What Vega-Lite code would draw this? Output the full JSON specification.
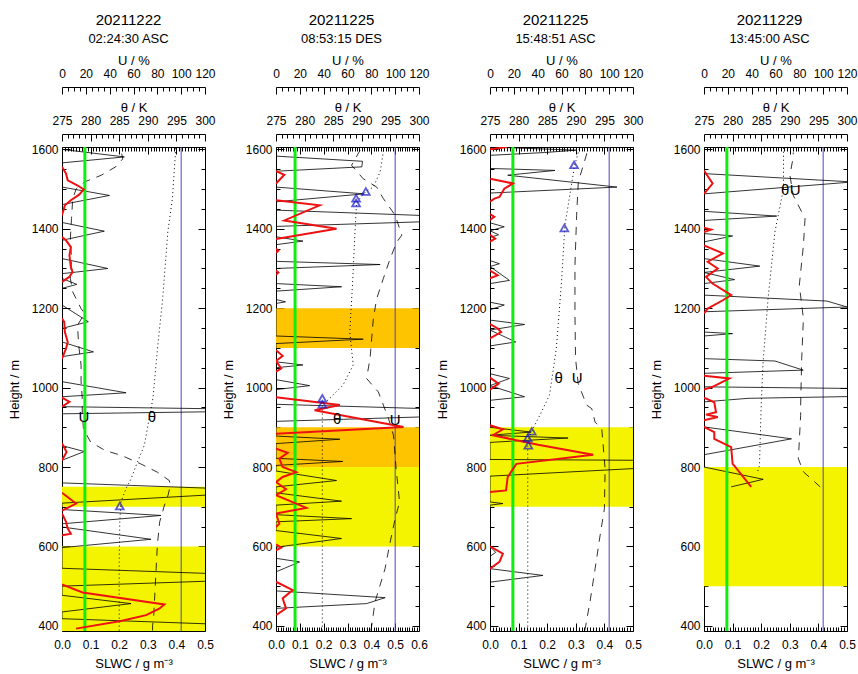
{
"$schema":"https://vega.github.io/schema/vega-lite/v6.json",
"background":"white",
"padding":{"left":7,"top":12,"right":5,"bottom":5},
"spacing":71,
"bounds":"flush",
"config":{
 "view":{"stroke":"black","strokeWidth":1},
 "axis":{"labelFont":"Liberation Sans","labelFontSize":12,"titleFont":"Liberation Sans","titleFontSize":13,"titleFontWeight":"normal","labelColor":"black","titleColor":"black","tickColor":"black","domainColor":"black","grid":false,"labelOverlap":false,"labelFlush":false,"labelBound":false,"tickWidth":1},
 "title":{"anchor":"middle","frame":"group","dx":-6,"offset":8,"font":"Liberation Sans","fontSize":15,"fontWeight":"normal","color":"black","subtitleFont":"Liberation Sans","subtitleFontSize":13,"subtitleColor":"black","subtitlePadding":5}
},
"datasets":{
"black":[
{"p":1,"s":0,"h":1600},{"p":1,"s":0.218,"h":1581},{"p":1,"s":0,"h":1566},{"p":1,"s":0,"h":1505},{"p":1,"s":0.166,"h":1484},{"p":1,"s":0,"h":1461},{"p":1,"s":0,"h":1416},{"p":1,"s":0.148,"h":1394},{"p":1,"s":0,"h":1371},{"p":1,"s":0,"h":1325},{"p":1,"s":0.16,"h":1300},{"p":1,"s":0,"h":1287},{"p":1,"s":0,"h":1275},{"p":1,"s":0.052,"h":1260},{"p":1,"s":0,"h":1250},{"p":1,"s":0,"h":1208},{"p":1,"s":0.092,"h":1166},{"p":1,"s":0,"h":1149},{"p":1,"s":0,"h":1115},{"p":1,"s":0.11,"h":1090},{"p":1,"s":0,"h":1078},{"p":1,"s":0,"h":1015},{"p":1,"s":0.224,"h":987},{"p":1,"s":0,"h":977},{"p":1,"s":0,"h":952},{"p":1,"s":0.9,"h":943},{"p":1,"s":0,"h":934},{"p":1,"s":0,"h":854},{"p":1,"s":0.078,"h":839},{"p":1,"s":0,"h":817},{"p":1,"s":0,"h":760},{"p":1,"s":0.77,"h":740},{"p":1,"s":0,"h":709},{"p":1,"s":0,"h":693},{"p":1,"s":0.346,"h":678},{"p":1,"s":0,"h":657},{"p":1,"s":0,"h":649},{"p":1,"s":0.311,"h":618},{"p":1,"s":0,"h":597},{"p":1,"s":0,"h":545},{"p":1,"s":0.9,"h":522},{"p":1,"s":0,"h":500},{"p":1,"s":0,"h":477},{"p":1,"s":0.241,"h":456},{"p":1,"s":0,"h":435},{"p":1,"s":0,"h":418},{"p":1,"s":0.9,"h":395},
{"p":2,"s":0,"h":1583},{"p":2,"s":0.363,"h":1570},{"p":2,"s":0.36,"h":1556},{"p":2,"s":0,"h":1545},{"p":2,"s":0,"h":1505},{"p":2,"s":0.37,"h":1488},{"p":2,"s":0,"h":1468},{"p":2,"s":0,"h":1447},{"p":2,"s":1.0,"h":1425},{"p":2,"s":0,"h":1406},{"p":2,"s":0,"h":1380},{"p":2,"s":0.113,"h":1369},{"p":2,"s":0,"h":1360},{"p":2,"s":0,"h":1318},{"p":2,"s":0.437,"h":1310},{"p":2,"s":0,"h":1300},{"p":2,"s":0,"h":1262},{"p":2,"s":0.275,"h":1254},{"p":2,"s":0,"h":1243},{"p":2,"s":0,"h":1222},{"p":2,"s":0.04,"h":1216},{"p":2,"s":0,"h":1212},{"p":2,"s":0,"h":1130},{"p":2,"s":0.366,"h":1122},{"p":2,"s":0,"h":1111},{"p":2,"s":0,"h":1065},{"p":2,"s":0.113,"h":1057},{"p":2,"s":0,"h":1050},{"p":2,"s":0,"h":1020},{"p":2,"s":0.141,"h":1005},{"p":2,"s":0,"h":995},{"p":2,"s":0,"h":958},{"p":2,"s":1.2,"h":937},{"p":2,"s":0,"h":915},{"p":2,"s":0,"h":878},{"p":2,"s":0.268,"h":870},{"p":2,"s":0,"h":859},{"p":2,"s":0,"h":822},{"p":2,"s":0.28,"h":814},{"p":2,"s":0,"h":804},{"p":2,"s":0,"h":790},{"p":2,"s":0.254,"h":766},{"p":2,"s":0,"h":750},{"p":2,"s":0,"h":735},{"p":2,"s":0.275,"h":714},{"p":2,"s":0,"h":704},{"p":2,"s":0,"h":680},{"p":2,"s":0.317,"h":670},{"p":2,"s":0,"h":662},{"p":2,"s":0,"h":640},{"p":2,"s":0.275,"h":620},{"p":2,"s":0,"h":598},{"p":2,"s":0,"h":570},{"p":2,"s":0.099,"h":561},{"p":2,"s":0,"h":536},{"p":2,"s":0,"h":488},{"p":2,"s":0.458,"h":471},{"p":2,"s":0.38,"h":456},{"p":2,"s":0,"h":444},
{"p":3,"s":0,"h":1606},{"p":3,"s":0.3,"h":1598},{"p":3,"s":0.19,"h":1592},{"p":3,"s":0,"h":1585},{"p":3,"s":0,"h":1552},{"p":3,"s":0.227,"h":1547},{"p":3,"s":0.062,"h":1535},{"p":3,"s":0.444,"h":1505},{"p":3,"s":0,"h":1490},{"p":3,"s":0,"h":1415},{"p":3,"s":0.05,"h":1405},{"p":3,"s":0,"h":1395},{"p":3,"s":0.03,"h":1385},{"p":3,"s":0,"h":1378},{"p":3,"s":0,"h":1320},{"p":3,"s":0.033,"h":1312},{"p":3,"s":0,"h":1305},{"p":3,"s":0.068,"h":1270},{"p":3,"s":0,"h":1262},{"p":3,"s":0,"h":1215},{"p":3,"s":0.05,"h":1208},{"p":3,"s":0,"h":1196},{"p":3,"s":0,"h":1170},{"p":3,"s":0.121,"h":1159},{"p":3,"s":0,"h":1145},{"p":3,"s":0.09,"h":1115},{"p":3,"s":0,"h":1105},{"p":3,"s":0,"h":1035},{"p":3,"s":0.068,"h":1023},{"p":3,"s":0,"h":1005},{"p":3,"s":0.121,"h":977},{"p":3,"s":0,"h":968},{"p":3,"s":0,"h":900},{"p":3,"s":0.144,"h":888},{"p":3,"s":0,"h":880},{"p":3,"s":0.273,"h":873},{"p":3,"s":0,"h":862},{"p":3,"s":0,"h":819},{"p":3,"s":1.0,"h":815},{"p":3,"s":0,"h":777},{"p":3,"s":0,"h":712},{"p":3,"s":0.045,"h":708},{"p":3,"s":0,"h":704},{"p":3,"s":0,"h":600},{"p":3,"s":0.02,"h":585},{"p":3,"s":0,"h":575},{"p":3,"s":0,"h":544},{"p":3,"s":0.185,"h":527},{"p":3,"s":0,"h":510},
{"p":4,"s":0,"h":1539},{"p":4,"s":0.52,"h":1518},{"p":4,"s":0,"h":1488},{"p":4,"s":0,"h":1444},{"p":4,"s":0.254,"h":1432},{"p":4,"s":0,"h":1421},{"p":4,"s":0,"h":1388},{"p":4,"s":0.1,"h":1382},{"p":4,"s":0,"h":1367},{"p":4,"s":0,"h":1325},{"p":4,"s":0.195,"h":1306},{"p":4,"s":0,"h":1290},{"p":4,"s":0.107,"h":1272},{"p":4,"s":0,"h":1262},{"p":4,"s":0,"h":1233},{"p":4,"s":0.43,"h":1218},{"p":4,"s":0.5,"h":1203},{"p":4,"s":0,"h":1191},{"p":4,"s":0,"h":1140},{"p":4,"s":0.1,"h":1136},{"p":4,"s":0,"h":1130},{"p":4,"s":0,"h":1073},{"p":4,"s":0.248,"h":1067},{"p":4,"s":0.347,"h":1044},{"p":4,"s":0,"h":1036},{"p":4,"s":0,"h":1002},{"p":4,"s":1.5,"h":990},{"p":4,"s":0.154,"h":973},{"p":4,"s":0,"h":964},{"p":4,"s":0,"h":901},{"p":4,"s":0.306,"h":871},{"p":4,"s":0,"h":831},{"p":4,"s":0,"h":800},{"p":4,"s":0.207,"h":769},{"p":4,"s":0.095,"h":750}
],
"red":[
{"p":1,"g":1,"s":0,"h":1556},{"p":1,"g":1,"s":0.014,"h":1539},{"p":1,"g":1,"s":0.02,"h":1522},{"p":1,"g":1,"s":0.055,"h":1509},{"p":1,"g":1,"s":0.076,"h":1499},{"p":1,"g":1,"s":0.06,"h":1486},{"p":1,"g":1,"s":0.031,"h":1472},{"p":1,"g":1,"s":0.01,"h":1459},{"p":1,"g":1,"s":0,"h":1434},
{"p":1,"g":2,"s":0,"h":1379},{"p":1,"g":2,"s":0.014,"h":1371},{"p":1,"g":2,"s":0.031,"h":1354},{"p":1,"g":2,"s":0.026,"h":1333},{"p":1,"g":2,"s":0.031,"h":1304},{"p":1,"g":2,"s":0.037,"h":1291},{"p":1,"g":2,"s":0.026,"h":1279},{"p":1,"g":2,"s":0.008,"h":1270},{"p":1,"g":2,"s":0,"h":1266},
{"p":1,"g":3,"s":0,"h":1174},{"p":1,"g":3,"s":0.008,"h":1165},{"p":1,"g":3,"s":0.01,"h":1140},{"p":1,"g":3,"s":0.02,"h":1115},{"p":1,"g":3,"s":0.014,"h":1098},{"p":1,"g":3,"s":0,"h":1073},
{"p":1,"g":4,"s":0,"h":975},{"p":1,"g":4,"s":0.026,"h":964},{"p":1,"g":4,"s":0,"h":952},
{"p":1,"g":5,"s":0,"h":860},{"p":1,"g":5,"s":0.016,"h":838},{"p":1,"g":5,"s":0,"h":817},
{"p":1,"g":6,"s":0,"h":735},{"p":1,"g":6,"s":0.049,"h":708},{"p":1,"g":6,"s":0,"h":690},
{"p":1,"g":7,"s":0,"h":683},{"p":1,"g":7,"s":0.014,"h":662},{"p":1,"g":7,"s":0.02,"h":645},{"p":1,"g":7,"s":0.031,"h":632},{"p":1,"g":7,"s":0,"h":628},
{"p":1,"g":8,"s":0,"h":504},{"p":1,"g":8,"s":0.072,"h":484},{"p":1,"g":8,"s":0.358,"h":454},{"p":1,"g":8,"s":0.34,"h":443},{"p":1,"g":8,"s":0.294,"h":427},{"p":1,"g":8,"s":0.206,"h":412},{"p":1,"g":8,"s":0.049,"h":393},
{"p":2,"g":1,"s":0,"h":1545},{"p":2,"g":1,"s":0.035,"h":1536},{"p":2,"g":1,"s":0,"h":1514},
{"p":2,"g":2,"s":0,"h":1472},{"p":2,"g":2,"s":0.183,"h":1459},{"p":2,"g":2,"s":0.035,"h":1421},{"p":2,"g":2,"s":0.254,"h":1400},{"p":2,"g":2,"s":0,"h":1374},
{"p":2,"g":3,"s":0,"h":1350},{"p":2,"g":3,"s":0.01,"h":1345},{"p":2,"g":3,"s":0,"h":1340},
{"p":2,"g":4,"s":0,"h":1295},{"p":2,"g":4,"s":0.01,"h":1290},{"p":2,"g":4,"s":0,"h":1284},
{"p":2,"g":5,"s":0,"h":1094},{"p":2,"g":5,"s":0.028,"h":1080},{"p":2,"g":5,"s":0,"h":1067},{"p":2,"g":5,"s":0.022,"h":1048},{"p":2,"g":5,"s":0,"h":1040},
{"p":2,"g":6,"s":0,"h":976},{"p":2,"g":6,"s":0.268,"h":956},{"p":2,"g":6,"s":0.162,"h":943},{"p":2,"g":6,"s":0.535,"h":901},{"p":2,"g":6,"s":0,"h":884},
{"p":2,"g":7,"s":0,"h":846},{"p":2,"g":7,"s":0.049,"h":836},{"p":2,"g":7,"s":0.014,"h":821},{"p":2,"g":7,"s":0.028,"h":800},{"p":2,"g":7,"s":0.085,"h":787},{"p":2,"g":7,"s":0.028,"h":775},{"p":2,"g":7,"s":0,"h":762},{"p":2,"g":7,"s":0.042,"h":744},{"p":2,"g":7,"s":0,"h":729},{"p":2,"g":7,"s":0.127,"h":697},{"p":2,"g":7,"s":0,"h":683},{"p":2,"g":7,"s":0.014,"h":657},{"p":2,"g":7,"s":0,"h":649},
{"p":2,"g":8,"s":0,"h":605},{"p":2,"g":8,"s":0.022,"h":597},{"p":2,"g":8,"s":0,"h":590},
{"p":2,"g":9,"s":0,"h":511},{"p":2,"g":9,"s":0.07,"h":490},{"p":2,"g":9,"s":0.028,"h":469},{"p":2,"g":9,"s":0.042,"h":444},{"p":2,"g":9,"s":0,"h":427},
{"p":3,"g":1,"s":0.06,"h":1606},{"p":3,"g":1,"s":0,"h":1600},
{"p":3,"g":2,"s":0,"h":1526},{"p":3,"g":2,"s":0.056,"h":1518},{"p":3,"g":2,"s":0.08,"h":1514},{"p":3,"g":2,"s":0.05,"h":1501},{"p":3,"g":2,"s":0.033,"h":1480},{"p":3,"g":2,"s":0.015,"h":1476},{"p":3,"g":2,"s":0,"h":1468},
{"p":3,"g":3,"s":0,"h":1437},{"p":3,"g":3,"s":0.015,"h":1430},{"p":3,"g":3,"s":0,"h":1422},
{"p":3,"g":4,"s":0,"h":1385},{"p":3,"g":4,"s":0.018,"h":1375},{"p":3,"g":4,"s":0,"h":1368},
{"p":3,"g":5,"s":0,"h":1295},{"p":3,"g":5,"s":0.027,"h":1283},{"p":3,"g":5,"s":0,"h":1275},
{"p":3,"g":6,"s":0,"h":1160},{"p":3,"g":6,"s":0.027,"h":1149},{"p":3,"g":6,"s":0.039,"h":1140},{"p":3,"g":6,"s":0,"h":1124},
{"p":3,"g":7,"s":0,"h":1025},{"p":3,"g":7,"s":0.03,"h":1010},{"p":3,"g":7,"s":0,"h":995},
{"p":3,"g":8,"s":0,"h":905},{"p":3,"g":8,"s":0.045,"h":895},{"p":3,"g":8,"s":0.01,"h":880},{"p":3,"g":8,"s":0.168,"h":856},{"p":3,"g":8,"s":0.361,"h":831},{"p":3,"g":8,"s":0.092,"h":808},{"p":3,"g":8,"s":0.062,"h":775},{"p":3,"g":8,"s":0.056,"h":741},{"p":3,"g":8,"s":0,"h":737},
{"p":3,"g":9,"s":0,"h":600},{"p":3,"g":9,"s":0.045,"h":582},{"p":3,"g":9,"s":0.033,"h":561},{"p":3,"g":9,"s":0,"h":544},
{"p":4,"g":1,"s":0,"h":1547},{"p":4,"g":1,"s":0.03,"h":1514},{"p":4,"g":1,"s":0,"h":1488},
{"p":4,"g":2,"s":0,"h":1403},{"p":4,"g":2,"s":0.025,"h":1398},{"p":4,"g":2,"s":0,"h":1392},
{"p":4,"g":3,"s":0,"h":1358},{"p":4,"g":3,"s":0.066,"h":1338},{"p":4,"g":3,"s":0.013,"h":1317},{"p":4,"g":3,"s":0.048,"h":1300},{"p":4,"g":3,"s":0.007,"h":1279},{"p":4,"g":3,"s":0.03,"h":1262},{"p":4,"g":3,"s":0.077,"h":1241},{"p":4,"g":3,"s":0.095,"h":1233},{"p":4,"g":3,"s":0.066,"h":1220},{"p":4,"g":3,"s":0.013,"h":1199},{"p":4,"g":3,"s":0,"h":1187},
{"p":4,"g":4,"s":0,"h":1030},{"p":4,"g":4,"s":0.089,"h":1023},{"p":4,"g":4,"s":0.03,"h":1002},{"p":4,"g":4,"s":0,"h":995},
{"p":4,"g":5,"s":0,"h":975},{"p":4,"g":5,"s":0.036,"h":963},{"p":4,"g":5,"s":0.042,"h":938},{"p":4,"g":5,"s":0.007,"h":932},{"p":4,"g":5,"s":0.048,"h":926},{"p":4,"g":5,"s":0,"h":918},
{"p":4,"g":6,"s":0,"h":901},{"p":4,"g":6,"s":0.036,"h":888},{"p":4,"g":6,"s":0.036,"h":871},{"p":4,"g":6,"s":0.095,"h":850},{"p":4,"g":6,"s":0.1,"h":808},{"p":4,"g":6,"s":0.107,"h":802},{"p":4,"g":6,"s":0.165,"h":750}
],
"theta":[
{"p":1,"t":294.9,"h":1606},{"p":1,"t":294.3,"h":1476},{"p":1,"t":293.5,"h":1392},{"p":1,"t":292.6,"h":1224},{"p":1,"t":291.7,"h":1099},{"p":1,"t":290.9,"h":973},{"p":1,"t":290.4,"h":935},{"p":1,"t":289.4,"h":855},{"p":1,"t":288.2,"h":813},{"p":1,"t":287.1,"h":771},{"p":1,"t":286.2,"h":746},{"p":1,"t":285.3,"h":712},{"p":1,"t":285.1,"h":660},{"p":1,"t":285.0,"h":560},{"p":1,"t":285.0,"h":470},{"p":1,"t":285.0,"h":388},
{"p":2,"t":293.8,"h":1606},{"p":2,"t":293.8,"h":1597},{"p":2,"t":293.2,"h":1543},{"p":2,"t":292.0,"h":1505},{"p":2,"t":290.7,"h":1494},{"p":2,"t":289.1,"h":1467},{"p":2,"t":288.8,"h":1392},{"p":2,"t":288.4,"h":1266},{"p":2,"t":287.9,"h":1140},{"p":2,"t":288.5,"h":1057},{"p":2,"t":286.7,"h":1006},{"p":2,"t":284.4,"h":973},{"p":2,"t":283.1,"h":956},{"p":2,"t":283.1,"h":900},{"p":2,"t":283.1,"h":700},{"p":2,"t":283.1,"h":388},
{"p":3,"t":290.7,"h":1606},{"p":3,"t":289.8,"h":1560},{"p":3,"t":288.1,"h":1409},{"p":3,"t":287.5,"h":1266},{"p":3,"t":286.6,"h":1099},{"p":3,"t":285.4,"h":981},{"p":3,"t":283.7,"h":930},{"p":3,"t":282.2,"h":888},{"p":3,"t":281.6,"h":863},{"p":3,"t":281.6,"h":796},{"p":3,"t":281.6,"h":628},{"p":3,"t":281.6,"h":388},
{"p":4,"t":288.9,"h":1606},{"p":4,"t":288.9,"h":1501},{"p":4,"t":287.4,"h":1392},{"p":4,"t":286.2,"h":1224},{"p":4,"t":285.3,"h":1057},{"p":4,"t":285.0,"h":956},{"p":4,"t":284.7,"h":804},{"p":4,"t":284.4,"h":790}
],
"rh":[
{"p":1,"u":49,"h":1606},{"p":1,"u":49.5,"h":1597},{"p":1,"u":51,"h":1576},{"p":1,"u":45,"h":1556},{"p":1,"u":33,"h":1535},{"p":1,"u":19,"h":1518},{"p":1,"u":12,"h":1501},{"p":1,"u":9,"h":1476},{"p":1,"u":8,"h":1426},{"p":1,"u":7,"h":1375},{"p":1,"u":8,"h":1325},{"p":1,"u":7,"h":1275},{"p":1,"u":9,"h":1241},{"p":1,"u":16,"h":1199},{"p":1,"u":19,"h":1187},{"p":1,"u":13,"h":1157},{"p":1,"u":14,"h":1107},{"p":1,"u":16,"h":1057},{"p":1,"u":16,"h":1015},{"p":1,"u":17,"h":973},{"p":1,"u":17,"h":938},{"p":1,"u":18,"h":896},{"p":1,"u":24,"h":863},{"p":1,"u":36,"h":842},{"p":1,"u":50,"h":829},{"p":1,"u":66,"h":808},{"p":1,"u":80,"h":787},{"p":1,"u":90,"h":766},{"p":1,"u":91,"h":754},{"p":1,"u":89,"h":729},{"p":1,"u":86,"h":704},{"p":1,"u":82,"h":662},{"p":1,"u":80,"h":603},{"p":1,"u":79,"h":544},{"p":1,"u":78,"h":486},{"p":1,"u":77,"h":427},{"p":1,"u":76,"h":400},{"p":1,"u":76,"h":388},
{"p":2,"u":70.4,"h":1606},{"p":2,"u":70.4,"h":1597},{"p":2,"u":63.4,"h":1560},{"p":2,"u":73.2,"h":1526},{"p":2,"u":84.5,"h":1505},{"p":2,"u":90.1,"h":1476},{"p":2,"u":100,"h":1434},{"p":2,"u":105.6,"h":1384},{"p":2,"u":101.4,"h":1367},{"p":2,"u":95.8,"h":1325},{"p":2,"u":90.1,"h":1275},{"p":2,"u":84.5,"h":1224},{"p":2,"u":81.7,"h":1174},{"p":2,"u":80.3,"h":1124},{"p":2,"u":78.9,"h":1073},{"p":2,"u":76,"h":1023},{"p":2,"u":85.9,"h":989},{"p":2,"u":90.1,"h":956},{"p":2,"u":94.4,"h":922},{"p":2,"u":98.6,"h":880},{"p":2,"u":100.8,"h":796},{"p":2,"u":103.7,"h":712},{"p":2,"u":100,"h":670},{"p":2,"u":95.8,"h":611},{"p":2,"u":91.5,"h":544},{"p":2,"u":87.3,"h":502},{"p":2,"u":83.1,"h":460},{"p":2,"u":80.3,"h":400},{"p":2,"u":79.5,"h":388},
{"p":3,"u":82.5,"h":1606},{"p":3,"u":82.5,"h":1602},{"p":3,"u":78.3,"h":1560},{"p":3,"u":74.1,"h":1518},{"p":3,"u":72.7,"h":1434},{"p":3,"u":71.3,"h":1308},{"p":3,"u":71.3,"h":1182},{"p":3,"u":71.8,"h":1073},{"p":3,"u":74,"h":1010},{"p":3,"u":81.1,"h":956},{"p":3,"u":85.4,"h":947},{"p":3,"u":88.2,"h":913},{"p":3,"u":93.8,"h":896},{"p":3,"u":96.6,"h":796},{"p":3,"u":96,"h":695},{"p":3,"u":92.4,"h":628},{"p":3,"u":88.2,"h":544},{"p":3,"u":83.9,"h":460},{"p":3,"u":80.3,"h":400},{"p":3,"u":79.5,"h":388},
{"p":4,"u":74.9,"h":1592},{"p":4,"u":74.9,"h":1581},{"p":4,"u":72.1,"h":1535},{"p":4,"u":74.9,"h":1484},{"p":4,"u":84.8,"h":1426},{"p":4,"u":83.4,"h":1358},{"p":4,"u":80,"h":1258},{"p":4,"u":83.4,"h":1174},{"p":4,"u":82,"h":1073},{"p":4,"u":81.1,"h":956},{"p":4,"u":81.1,"h":930},{"p":4,"u":79.2,"h":821},{"p":4,"u":83.4,"h":788},{"p":4,"u":97.5,"h":750}
],
"tri":[
{"p":1,"t":285.1,"h":702},
{"p":2,"t":290.7,"h":1494},{"p":2,"t":289.0,"h":1477},{"p":2,"t":289.0,"h":1465},{"p":2,"t":283.1,"h":973},{"p":2,"t":283.1,"h":958},
{"p":3,"t":289.7,"h":1561},{"p":3,"t":288.0,"h":1402},{"p":3,"t":282.3,"h":890},{"p":3,"t":281.6,"h":873},{"p":3,"t":281.7,"h":855}
],
"bands":[
{"p":1,"lo":700,"hi":750,"kind":"A"},{"p":1,"lo":387,"hi":600,"kind":"A"},
{"p":2,"lo":1100,"hi":1200,"kind":"B"},{"p":2,"lo":800,"hi":900,"kind":"B"},{"p":2,"lo":600,"hi":800,"kind":"A"},
{"p":3,"lo":700,"hi":900,"kind":"A"},
{"p":4,"lo":500,"hi":800,"kind":"A"}
],
"labs":[
{"p":1,"txt":"θ","v":290.7,"h":926},{"p":1,"txt":"U","v":18.5,"h":926},
{"p":2,"txt":"θ","v":285.7,"h":920},{"p":2,"txt":"U","v":100,"h":918},
{"p":3,"txt":"θ","v":287.0,"h":1023},{"p":3,"txt":"U","v":73.2,"h":1023},
{"p":4,"txt":"θ","v":289.2,"h":1497},{"p":4,"txt":"U","v":76.6,"h":1497}
]
},
"hconcat":[
{"width":143,"height":484,
 "title":{"text":"20211222","subtitle":"02:24:30 ASC","dx":-5},
 "resolve":{"scale":{"x":"independent"},"axis":{"x":"independent","y":"independent"}},
 "layer":[
  {"data":{"name":"bands"},"transform":[{"filter":"datum.p==1"}],"mark":{"type":"rect","clip":true},
   "encoding":{"y":{"field":"lo","type":"quantitative","scale":{"domain":[387,1606],"nice":false,"zero":false},"axis":null},"y2":{"field":"hi"},
   "color":{"field":"kind","type":"nominal","scale":{"domain":["A","B"],"range":["#F4F400","#FFC400"]},"legend":null}}},
  {"data":{"values":[{}]},"mark":{"type":"rule","color":"#5046C0","strokeWidth":1},
   "encoding":{"x":{"datum":100,"type":"quantitative","scale":{"domain":[0,120],"nice":false,"zero":false},"axis":null}}},
  {"data":{"name":"black"},"transform":[{"filter":"datum.p==1"}],"mark":{"type":"line","color":"black","strokeWidth":0.8,"clip":true},
   "encoding":{"x":{"field":"s","type":"quantitative","scale":{"domain":[0,0.5],"nice":false,"zero":false},
     "axis":{"orient":"bottom","title":"SLWC / g m⁻³","tickCount":50,"tickSize":{"condition":{"test":"abs(datum.value*10-round(datum.value*10))<0.001","value":-8},"value":-4},"labelExpr":"abs(datum.value*10-round(datum.value*10))<0.001 ? format(datum.value,'.1f') : ''","labelPadding":16,"domain":false,"titlePadding":3}},
    "y":{"field":"h","type":"quantitative","scale":{"domain":[387,1606],"nice":false,"zero":false},
     "axis":{"orient":"left","title":"Height / m","tickCount":25,"tickSize":{"condition":{"test":"datum.value % 200 === 0","value":-8},"value":-4},"labelExpr":"datum.value % 200 === 0 ? format(datum.value,'d') : ''","labelPadding":12,"domain":false,"titlePadding":10}},
    "order":{"field":"h","type":"quantitative"}}},
  {"data":{"name":"rh"},"transform":[{"filter":"datum.p==1"}],"mark":{"type":"line","color":"black","strokeWidth":0.8,"strokeDash":[8,7],"clip":true},
   "encoding":{"x":{"field":"u","type":"quantitative","scale":{"domain":[0,120],"nice":false,"zero":false},
     "axis":{"orient":"top","offset":60,"title":"U / %","tickCount":24,"tickSize":{"condition":{"test":"datum.value % 20 === 0","value":-7},"value":-4},"labelExpr":"datum.value % 20 === 0 ? datum.label : ''","labelPadding":14,"titlePadding":-3}},
    "y":{"field":"h","type":"quantitative","scale":{"domain":[387,1606],"nice":false,"zero":false},"axis":null},
    "order":{"field":"h","type":"quantitative"}}},
  {"data":{"name":"theta"},"transform":[{"filter":"datum.p==1"}],"mark":{"type":"line","color":"black","strokeWidth":1,"strokeDash":[1,3],"clip":true},
   "encoding":{"x":{"field":"t","type":"quantitative","scale":{"domain":[275,300],"nice":false,"zero":false},
     "axis":{"orient":"top","offset":13,"title":"θ / K","tickCount":25,"tickSize":{"condition":{"test":"datum.value % 5 === 0","value":-7},"value":-4},"labelExpr":"datum.value % 5 === 0 ? datum.label : ''","labelPadding":14,"titlePadding":-3}},
    "y":{"field":"h","type":"quantitative","scale":{"domain":[387,1606],"nice":false,"zero":false},"axis":null},
    "order":{"field":"h","type":"quantitative"}}},
  {"data":{"values":[{}]},"mark":{"type":"rule","color":"#10EE10","strokeWidth":3},
   "encoding":{"x":{"datum":0.08,"type":"quantitative","scale":{"domain":[0,0.5],"nice":false,"zero":false},
     "axis":{"orient":"top","offset":0,"title":null,"tickCount":50,"tickSize":{"condition":{"test":"abs(datum.value*10-round(datum.value*10))<0.001","value":-7},"value":-4},"labels":false,"domain":false}}}},
  {"data":{"name":"red"},"transform":[{"filter":"datum.p==1"}],"mark":{"type":"line","color":"#EE1111","strokeWidth":2,"clip":true},
   "encoding":{"x":{"field":"s","type":"quantitative","scale":{"domain":[0,0.5],"nice":false,"zero":false},"axis":null},
    "y":{"field":"h","type":"quantitative","scale":{"domain":[387,1606],"nice":false,"zero":false},
     "axis":{"orient":"right","title":null,"tickCount":25,"tickSize":{"condition":{"test":"datum.value % 200 === 0","value":-7},"value":-4},"labels":false,"domain":false}},
    "detail":{"field":"g"},"order":{"field":"h","type":"quantitative"}}},
  {"data":{"name":"tri"},"transform":[{"filter":"datum.p==1"}],"mark":{"type":"point","shape":"triangle-up","filled":false,"color":"#1818C8","strokeWidth":1.8,"size":60},
   "encoding":{"x":{"field":"t","type":"quantitative","scale":{"domain":[275,300],"nice":false,"zero":false},"axis":null},
    "y":{"field":"h","type":"quantitative","scale":{"domain":[387,1606],"nice":false,"zero":false},"axis":null}}},
  {"data":{"name":"labs"},"transform":[{"filter":"datum.p==1 && datum.txt=='θ'"}],"mark":{"type":"text","font":"Liberation Sans","fontSize":15,"color":"black"},
   "encoding":{"x":{"field":"v","type":"quantitative","scale":{"domain":[275,300],"nice":false,"zero":false},"axis":null},
    "y":{"field":"h","type":"quantitative","scale":{"domain":[387,1606],"nice":false,"zero":false},"axis":null},"text":{"field":"txt"}}},
  {"data":{"name":"labs"},"transform":[{"filter":"datum.p==1 && datum.txt=='U'"}],"mark":{"type":"text","font":"Liberation Sans","fontSize":15,"color":"black"},
   "encoding":{"x":{"field":"v","type":"quantitative","scale":{"domain":[0,120],"nice":false,"zero":false},"axis":null},
    "y":{"field":"h","type":"quantitative","scale":{"domain":[387,1606],"nice":false,"zero":false},"axis":null},"text":{"field":"txt"}}}
 ]},
{"width":143,"height":484,
 "title":{"text":"20211225","subtitle":"08:53:15 DES"},
 "resolve":{"scale":{"x":"independent"},"axis":{"x":"independent","y":"independent"}},
 "layer":[
  {"data":{"name":"bands"},"transform":[{"filter":"datum.p==2"}],"mark":{"type":"rect","clip":true},
   "encoding":{"y":{"field":"lo","type":"quantitative","scale":{"domain":[387,1606],"nice":false,"zero":false},"axis":null},"y2":{"field":"hi"},
   "color":{"field":"kind","type":"nominal","scale":{"domain":["A","B"],"range":["#F4F400","#FFC400"]},"legend":null}}},
  {"data":{"values":[{}]},"mark":{"type":"rule","color":"#5046C0","strokeWidth":1},
   "encoding":{"x":{"datum":100,"type":"quantitative","scale":{"domain":[0,120],"nice":false,"zero":false},"axis":null}}},
  {"data":{"name":"black"},"transform":[{"filter":"datum.p==2"}],"mark":{"type":"line","color":"black","strokeWidth":0.8,"clip":true},
   "encoding":{"x":{"field":"s","type":"quantitative","scale":{"domain":[0,0.6],"nice":false,"zero":false},
     "axis":{"orient":"bottom","title":"SLWC / g m⁻³","tickCount":60,"tickSize":{"condition":{"test":"abs(datum.value*10-round(datum.value*10))<0.001","value":-8},"value":-4},"labelExpr":"abs(datum.value*10-round(datum.value*10))<0.001 ? format(datum.value,'.1f') : ''","labelPadding":16,"domain":false,"titlePadding":3}},
    "y":{"field":"h","type":"quantitative","scale":{"domain":[387,1606],"nice":false,"zero":false},
     "axis":{"orient":"left","title":"Height / m","tickCount":25,"tickSize":{"condition":{"test":"datum.value % 200 === 0","value":-8},"value":-4},"labelExpr":"datum.value % 200 === 0 ? format(datum.value,'d') : ''","labelPadding":12,"domain":false,"titlePadding":10}},
    "order":{"field":"h","type":"quantitative"}}},
  {"data":{"name":"rh"},"transform":[{"filter":"datum.p==2"}],"mark":{"type":"line","color":"black","strokeWidth":0.8,"strokeDash":[8,7],"clip":true},
   "encoding":{"x":{"field":"u","type":"quantitative","scale":{"domain":[0,120],"nice":false,"zero":false},
     "axis":{"orient":"top","offset":60,"title":"U / %","tickCount":24,"tickSize":{"condition":{"test":"datum.value % 20 === 0","value":-7},"value":-4},"labelExpr":"datum.value % 20 === 0 ? datum.label : ''","labelPadding":14,"titlePadding":-3}},
    "y":{"field":"h","type":"quantitative","scale":{"domain":[387,1606],"nice":false,"zero":false},"axis":null},
    "order":{"field":"h","type":"quantitative"}}},
  {"data":{"name":"theta"},"transform":[{"filter":"datum.p==2"}],"mark":{"type":"line","color":"black","strokeWidth":1,"strokeDash":[1,3],"clip":true},
   "encoding":{"x":{"field":"t","type":"quantitative","scale":{"domain":[275,300],"nice":false,"zero":false},
     "axis":{"orient":"top","offset":13,"title":"θ / K","tickCount":25,"tickSize":{"condition":{"test":"datum.value % 5 === 0","value":-7},"value":-4},"labelExpr":"datum.value % 5 === 0 ? datum.label : ''","labelPadding":14,"titlePadding":-3}},
    "y":{"field":"h","type":"quantitative","scale":{"domain":[387,1606],"nice":false,"zero":false},"axis":null},
    "order":{"field":"h","type":"quantitative"}}},
  {"data":{"values":[{}]},"mark":{"type":"rule","color":"#10EE10","strokeWidth":3},
   "encoding":{"x":{"datum":0.08,"type":"quantitative","scale":{"domain":[0,0.6],"nice":false,"zero":false},
     "axis":{"orient":"top","offset":0,"title":null,"tickCount":60,"tickSize":{"condition":{"test":"abs(datum.value*10-round(datum.value*10))<0.001","value":-7},"value":-4},"labels":false,"domain":false}}}},
  {"data":{"name":"red"},"transform":[{"filter":"datum.p==2"}],"mark":{"type":"line","color":"#EE1111","strokeWidth":2,"clip":true},
   "encoding":{"x":{"field":"s","type":"quantitative","scale":{"domain":[0,0.6],"nice":false,"zero":false},"axis":null},
    "y":{"field":"h","type":"quantitative","scale":{"domain":[387,1606],"nice":false,"zero":false},
     "axis":{"orient":"right","title":null,"tickCount":25,"tickSize":{"condition":{"test":"datum.value % 200 === 0","value":-7},"value":-4},"labels":false,"domain":false}},
    "detail":{"field":"g"},"order":{"field":"h","type":"quantitative"}}},
  {"data":{"name":"tri"},"transform":[{"filter":"datum.p==2"}],"mark":{"type":"point","shape":"triangle-up","filled":false,"color":"#1818C8","strokeWidth":1.8,"size":60},
   "encoding":{"x":{"field":"t","type":"quantitative","scale":{"domain":[275,300],"nice":false,"zero":false},"axis":null},
    "y":{"field":"h","type":"quantitative","scale":{"domain":[387,1606],"nice":false,"zero":false},"axis":null}}},
  {"data":{"name":"labs"},"transform":[{"filter":"datum.p==2 && datum.txt=='θ'"}],"mark":{"type":"text","font":"Liberation Sans","fontSize":15,"color":"black"},
   "encoding":{"x":{"field":"v","type":"quantitative","scale":{"domain":[275,300],"nice":false,"zero":false},"axis":null},
    "y":{"field":"h","type":"quantitative","scale":{"domain":[387,1606],"nice":false,"zero":false},"axis":null},"text":{"field":"txt"}}},
  {"data":{"name":"labs"},"transform":[{"filter":"datum.p==2 && datum.txt=='U'"}],"mark":{"type":"text","font":"Liberation Sans","fontSize":15,"color":"black"},
   "encoding":{"x":{"field":"v","type":"quantitative","scale":{"domain":[0,120],"nice":false,"zero":false},"axis":null},
    "y":{"field":"h","type":"quantitative","scale":{"domain":[387,1606],"nice":false,"zero":false},"axis":null},"text":{"field":"txt"}}}
 ]},
{"width":143,"height":484,
 "title":{"text":"20211225","subtitle":"15:48:51 ASC"},
 "resolve":{"scale":{"x":"independent"},"axis":{"x":"independent","y":"independent"}},
 "layer":[
  {"data":{"name":"bands"},"transform":[{"filter":"datum.p==3"}],"mark":{"type":"rect","clip":true},
   "encoding":{"y":{"field":"lo","type":"quantitative","scale":{"domain":[387,1606],"nice":false,"zero":false},"axis":null},"y2":{"field":"hi"},
   "color":{"field":"kind","type":"nominal","scale":{"domain":["A","B"],"range":["#F4F400","#FFC400"]},"legend":null}}},
  {"data":{"values":[{}]},"mark":{"type":"rule","color":"#5046C0","strokeWidth":1},
   "encoding":{"x":{"datum":100,"type":"quantitative","scale":{"domain":[0,120],"nice":false,"zero":false},"axis":null}}},
  {"data":{"name":"black"},"transform":[{"filter":"datum.p==3"}],"mark":{"type":"line","color":"black","strokeWidth":0.8,"clip":true},
   "encoding":{"x":{"field":"s","type":"quantitative","scale":{"domain":[0,0.5],"nice":false,"zero":false},
     "axis":{"orient":"bottom","title":"SLWC / g m⁻³","tickCount":50,"tickSize":{"condition":{"test":"abs(datum.value*10-round(datum.value*10))<0.001","value":-8},"value":-4},"labelExpr":"abs(datum.value*10-round(datum.value*10))<0.001 ? format(datum.value,'.1f') : ''","labelPadding":16,"domain":false,"titlePadding":3}},
    "y":{"field":"h","type":"quantitative","scale":{"domain":[387,1606],"nice":false,"zero":false},
     "axis":{"orient":"left","title":"Height / m","tickCount":25,"tickSize":{"condition":{"test":"datum.value % 200 === 0","value":-8},"value":-4},"labelExpr":"datum.value % 200 === 0 ? format(datum.value,'d') : ''","labelPadding":12,"domain":false,"titlePadding":10}},
    "order":{"field":"h","type":"quantitative"}}},
  {"data":{"name":"rh"},"transform":[{"filter":"datum.p==3"}],"mark":{"type":"line","color":"black","strokeWidth":0.8,"strokeDash":[8,7],"clip":true},
   "encoding":{"x":{"field":"u","type":"quantitative","scale":{"domain":[0,120],"nice":false,"zero":false},
     "axis":{"orient":"top","offset":60,"title":"U / %","tickCount":24,"tickSize":{"condition":{"test":"datum.value % 20 === 0","value":-7},"value":-4},"labelExpr":"datum.value % 20 === 0 ? datum.label : ''","labelPadding":14,"titlePadding":-3}},
    "y":{"field":"h","type":"quantitative","scale":{"domain":[387,1606],"nice":false,"zero":false},"axis":null},
    "order":{"field":"h","type":"quantitative"}}},
  {"data":{"name":"theta"},"transform":[{"filter":"datum.p==3"}],"mark":{"type":"line","color":"black","strokeWidth":1,"strokeDash":[1,3],"clip":true},
   "encoding":{"x":{"field":"t","type":"quantitative","scale":{"domain":[275,300],"nice":false,"zero":false},
     "axis":{"orient":"top","offset":13,"title":"θ / K","tickCount":25,"tickSize":{"condition":{"test":"datum.value % 5 === 0","value":-7},"value":-4},"labelExpr":"datum.value % 5 === 0 ? datum.label : ''","labelPadding":14,"titlePadding":-3}},
    "y":{"field":"h","type":"quantitative","scale":{"domain":[387,1606],"nice":false,"zero":false},"axis":null},
    "order":{"field":"h","type":"quantitative"}}},
  {"data":{"values":[{}]},"mark":{"type":"rule","color":"#10EE10","strokeWidth":3},
   "encoding":{"x":{"datum":0.08,"type":"quantitative","scale":{"domain":[0,0.5],"nice":false,"zero":false},
     "axis":{"orient":"top","offset":0,"title":null,"tickCount":50,"tickSize":{"condition":{"test":"abs(datum.value*10-round(datum.value*10))<0.001","value":-7},"value":-4},"labels":false,"domain":false}}}},
  {"data":{"name":"red"},"transform":[{"filter":"datum.p==3"}],"mark":{"type":"line","color":"#EE1111","strokeWidth":2,"clip":true},
   "encoding":{"x":{"field":"s","type":"quantitative","scale":{"domain":[0,0.5],"nice":false,"zero":false},"axis":null},
    "y":{"field":"h","type":"quantitative","scale":{"domain":[387,1606],"nice":false,"zero":false},
     "axis":{"orient":"right","title":null,"tickCount":25,"tickSize":{"condition":{"test":"datum.value % 200 === 0","value":-7},"value":-4},"labels":false,"domain":false}},
    "detail":{"field":"g"},"order":{"field":"h","type":"quantitative"}}},
  {"data":{"name":"tri"},"transform":[{"filter":"datum.p==3"}],"mark":{"type":"point","shape":"triangle-up","filled":false,"color":"#1818C8","strokeWidth":1.8,"size":60},
   "encoding":{"x":{"field":"t","type":"quantitative","scale":{"domain":[275,300],"nice":false,"zero":false},"axis":null},
    "y":{"field":"h","type":"quantitative","scale":{"domain":[387,1606],"nice":false,"zero":false},"axis":null}}},
  {"data":{"name":"labs"},"transform":[{"filter":"datum.p==3 && datum.txt=='θ'"}],"mark":{"type":"text","font":"Liberation Sans","fontSize":15,"color":"black"},
   "encoding":{"x":{"field":"v","type":"quantitative","scale":{"domain":[275,300],"nice":false,"zero":false},"axis":null},
    "y":{"field":"h","type":"quantitative","scale":{"domain":[387,1606],"nice":false,"zero":false},"axis":null},"text":{"field":"txt"}}},
  {"data":{"name":"labs"},"transform":[{"filter":"datum.p==3 && datum.txt=='U'"}],"mark":{"type":"text","font":"Liberation Sans","fontSize":15,"color":"black"},
   "encoding":{"x":{"field":"v","type":"quantitative","scale":{"domain":[0,120],"nice":false,"zero":false},"axis":null},
    "y":{"field":"h","type":"quantitative","scale":{"domain":[387,1606],"nice":false,"zero":false},"axis":null},"text":{"field":"txt"}}}
 ]},
{"width":143,"height":484,
 "title":{"text":"20211229","subtitle":"13:45:00 ASC"},
 "resolve":{"scale":{"x":"independent"},"axis":{"x":"independent","y":"independent"}},
 "layer":[
  {"data":{"name":"bands"},"transform":[{"filter":"datum.p==4"}],"mark":{"type":"rect","clip":true},
   "encoding":{"y":{"field":"lo","type":"quantitative","scale":{"domain":[387,1606],"nice":false,"zero":false},"axis":null},"y2":{"field":"hi"},
   "color":{"field":"kind","type":"nominal","scale":{"domain":["A","B"],"range":["#F4F400","#FFC400"]},"legend":null}}},
  {"data":{"values":[{}]},"mark":{"type":"rule","color":"#5046C0","strokeWidth":1},
   "encoding":{"x":{"datum":100,"type":"quantitative","scale":{"domain":[0,120],"nice":false,"zero":false},"axis":null}}},
  {"data":{"name":"black"},"transform":[{"filter":"datum.p==4"}],"mark":{"type":"line","color":"black","strokeWidth":0.8,"clip":true},
   "encoding":{"x":{"field":"s","type":"quantitative","scale":{"domain":[0,0.5],"nice":false,"zero":false},
     "axis":{"orient":"bottom","title":"SLWC / g m⁻³","tickCount":50,"tickSize":{"condition":{"test":"abs(datum.value*10-round(datum.value*10))<0.001","value":-8},"value":-4},"labelExpr":"abs(datum.value*10-round(datum.value*10))<0.001 ? format(datum.value,'.1f') : ''","labelPadding":16,"domain":false,"titlePadding":3}},
    "y":{"field":"h","type":"quantitative","scale":{"domain":[387,1606],"nice":false,"zero":false},
     "axis":{"orient":"left","title":"Height / m","tickCount":25,"tickSize":{"condition":{"test":"datum.value % 200 === 0","value":-8},"value":-4},"labelExpr":"datum.value % 200 === 0 ? format(datum.value,'d') : ''","labelPadding":12,"domain":false,"titlePadding":10}},
    "order":{"field":"h","type":"quantitative"}}},
  {"data":{"name":"rh"},"transform":[{"filter":"datum.p==4"}],"mark":{"type":"line","color":"black","strokeWidth":0.8,"strokeDash":[8,7],"clip":true},
   "encoding":{"x":{"field":"u","type":"quantitative","scale":{"domain":[0,120],"nice":false,"zero":false},
     "axis":{"orient":"top","offset":60,"title":"U / %","tickCount":24,"tickSize":{"condition":{"test":"datum.value % 20 === 0","value":-7},"value":-4},"labelExpr":"datum.value % 20 === 0 ? datum.label : ''","labelPadding":14,"titlePadding":-3}},
    "y":{"field":"h","type":"quantitative","scale":{"domain":[387,1606],"nice":false,"zero":false},"axis":null},
    "order":{"field":"h","type":"quantitative"}}},
  {"data":{"name":"theta"},"transform":[{"filter":"datum.p==4"}],"mark":{"type":"line","color":"black","strokeWidth":1,"strokeDash":[1,3],"clip":true},
   "encoding":{"x":{"field":"t","type":"quantitative","scale":{"domain":[275,300],"nice":false,"zero":false},
     "axis":{"orient":"top","offset":13,"title":"θ / K","tickCount":25,"tickSize":{"condition":{"test":"datum.value % 5 === 0","value":-7},"value":-4},"labelExpr":"datum.value % 5 === 0 ? datum.label : ''","labelPadding":14,"titlePadding":-3}},
    "y":{"field":"h","type":"quantitative","scale":{"domain":[387,1606],"nice":false,"zero":false},"axis":null},
    "order":{"field":"h","type":"quantitative"}}},
  {"data":{"values":[{}]},"mark":{"type":"rule","color":"#10EE10","strokeWidth":3},
   "encoding":{"x":{"datum":0.08,"type":"quantitative","scale":{"domain":[0,0.5],"nice":false,"zero":false},
     "axis":{"orient":"top","offset":0,"title":null,"tickCount":50,"tickSize":{"condition":{"test":"abs(datum.value*10-round(datum.value*10))<0.001","value":-7},"value":-4},"labels":false,"domain":false}}}},
  {"data":{"name":"red"},"transform":[{"filter":"datum.p==4"}],"mark":{"type":"line","color":"#EE1111","strokeWidth":2,"clip":true},
   "encoding":{"x":{"field":"s","type":"quantitative","scale":{"domain":[0,0.5],"nice":false,"zero":false},"axis":null},
    "y":{"field":"h","type":"quantitative","scale":{"domain":[387,1606],"nice":false,"zero":false},
     "axis":{"orient":"right","title":null,"tickCount":25,"tickSize":{"condition":{"test":"datum.value % 200 === 0","value":-7},"value":-4},"labels":false,"domain":false}},
    "detail":{"field":"g"},"order":{"field":"h","type":"quantitative"}}},
  {"data":{"name":"labs"},"transform":[{"filter":"datum.p==4 && datum.txt=='θ'"}],"mark":{"type":"text","font":"Liberation Sans","fontSize":15,"color":"black"},
   "encoding":{"x":{"field":"v","type":"quantitative","scale":{"domain":[275,300],"nice":false,"zero":false},"axis":null},
    "y":{"field":"h","type":"quantitative","scale":{"domain":[387,1606],"nice":false,"zero":false},"axis":null},"text":{"field":"txt"}}},
  {"data":{"name":"labs"},"transform":[{"filter":"datum.p==4 && datum.txt=='U'"}],"mark":{"type":"text","font":"Liberation Sans","fontSize":15,"color":"black"},
   "encoding":{"x":{"field":"v","type":"quantitative","scale":{"domain":[0,120],"nice":false,"zero":false},"axis":null},
    "y":{"field":"h","type":"quantitative","scale":{"domain":[387,1606],"nice":false,"zero":false},"axis":null},"text":{"field":"txt"}}}
 ]}
]
}
